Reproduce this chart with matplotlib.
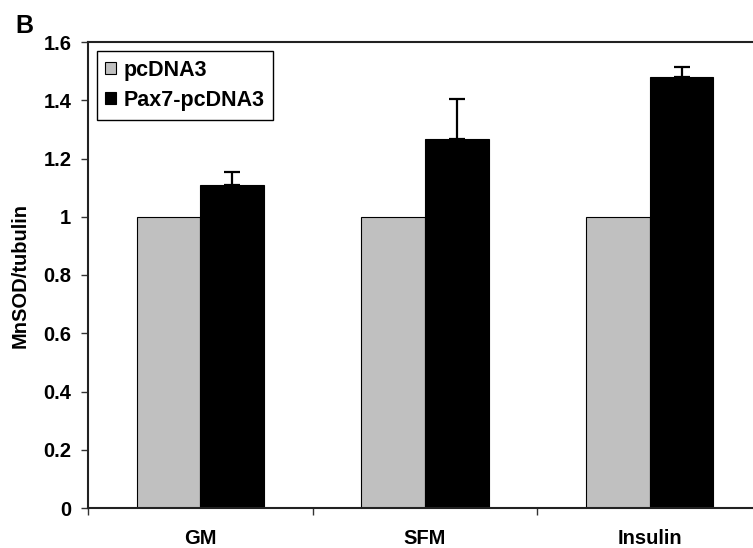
import matplotlib
matplotlib.use("Agg")
import matplotlib.pyplot as plt
import numpy as np

categories = ["GM", "SFM", "Insulin"]
pcdna3 = [1.0, 1.0, 1.0]
pax7 = [1.11, 1.268, 1.481]
pax7_err = [0.045, 0.136, 0.033]
yticks = [0, 0.2, 0.4, 0.6, 0.8, 1, 1.2, 1.4, 1.6]
ytick_labels = ["0", "0.2", "0.4", "0.6", "0.8", "1", "1.2", "1.4", "1.6"]

plt.rcParams['font.family'] = ['Liberation Sans', 'DejaVu Sans']
plt.rcParams['font.weight'] = 'bold'

FS = 14.5
fig = plt.figure(figsize=(7.53, 5.48), dpi=100)
W, H = 753, 548
ax = fig.add_axes([88 / W, 40 / H, 674 / W, 466 / H])

x = np.arange(len(categories))
bw = 0.284
ax.bar(x - bw / 2, pcdna3, bw, color="#c0c0c0", edgecolor="black", linewidth=0.8, label="pcDNA3", zorder=2)
ax.bar(x + bw / 2, pax7, bw, color="black", edgecolor="black", linewidth=0.8, label="Pax7-pcDNA3", zorder=2)
ax.errorbar(x + bw / 2, pax7, yerr=[np.zeros(len(pax7)), pax7_err], fmt="none",
            ecolor="black", elinewidth=1.6, capsize=5.6, capthick=1.6, zorder=3)

ax.set_xlim(-0.5, 2.5)
ax.set_ylim(0, 1.6)
ax.set_yticks(yticks)
ax.set_yticklabels(ytick_labels, fontsize=FS, fontweight='bold')
ax.set_xticks(x)
ax.set_xticklabels(categories, fontsize=FS, fontweight='bold')
ax.set_xticks([-0.5, 0.5, 1.5, 2.5], minor=True)
ax.tick_params(axis='x', which='major', length=0, pad=15)
ax.tick_params(axis='x', which='minor', length=5, width=1, direction='out', color='#333333')
ax.tick_params(axis='y', length=5, width=1, direction='out', pad=7, color='#333333')

for s in ['left', 'bottom', 'top', 'right']:
    ax.spines[s].set_linewidth(1.5)
    ax.spines[s].set_color('#222222')

ax.set_ylabel("MnSOD/tubulin", fontsize=FS, fontweight='bold', labelpad=10)

leg = ax.legend(loc='upper left', bbox_to_anchor=(0.013, 0.98), borderaxespad=0,
                fancybox=False, edgecolor='black', framealpha=1, fontsize=15.5,
                handlelength=0.5, handleheight=0.5, handletextpad=0.35,
                labelspacing=0.42, borderpad=0.4)
leg.get_frame().set_linewidth(1.0)
for t in leg.get_texts():
    t.set_fontweight('bold')

fig.text(15 / W, 1 - 33 / H, "B", fontsize=18, fontweight='bold', ha='left', va='baseline')

fig.savefig("out.png", dpi=100)
